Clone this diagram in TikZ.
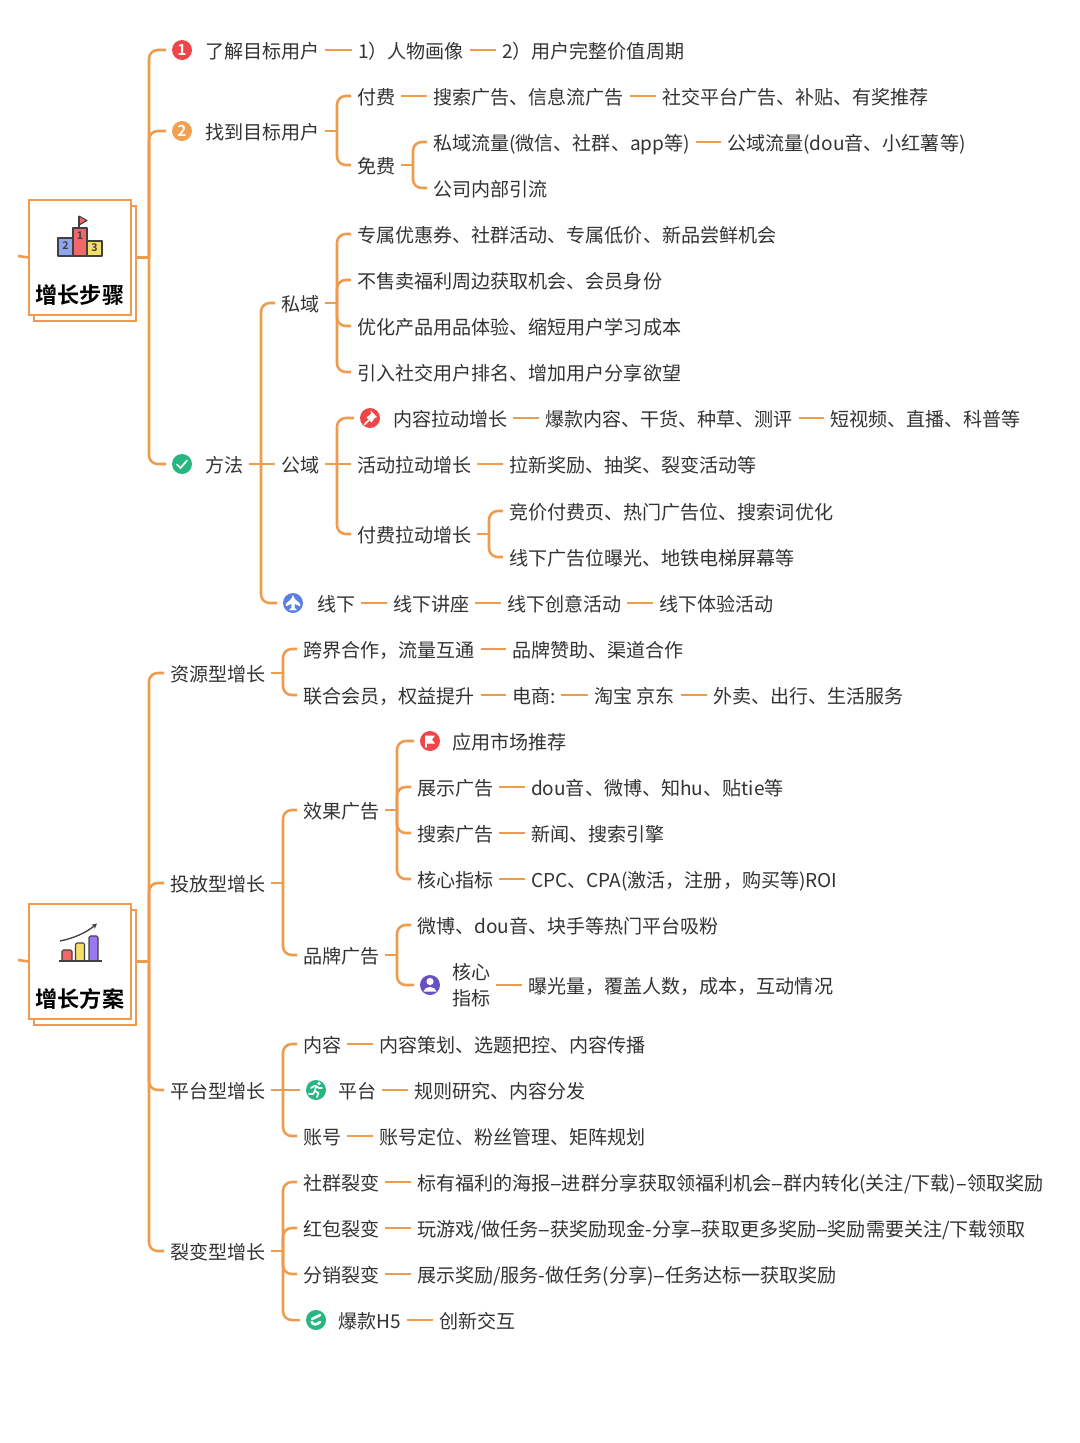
\documentclass[tikz,border=0pt]{standalone}
\usepackage{fontspec}
\usetikzlibrary{arrows.meta}
\setmainfont{Noto Sans CJK SC}[BoldFont={Noto Sans CJK SC Bold}]
\definecolor{oc}{HTML}{EE9B4E}
\definecolor{tc}{HTML}{333333}
\definecolor{icred}{HTML}{EE4649}
\definecolor{icorange}{HTML}{F2A152}
\definecolor{icgreen}{HTML}{27B67F}
\definecolor{icblue}{HTML}{5B7FE3}
\definecolor{icviolet}{HTML}{6650C4}
\definecolor{pblue}{HTML}{8FA6EE}
\definecolor{pred}{HTML}{F0686A}
\definecolor{pyellow}{HTML}{F5DE6A}
\definecolor{ppurple}{HTML}{9A78F0}
\tikzset{
  tx/.style={anchor=west,inner sep=0pt,outer sep=0pt,text=tc,font=\fontsize{14.3pt}{19.5pt}\selectfont,text height=13.25pt,text depth=1pt},
  txtwo/.style={anchor=west,inner sep=0pt,outer sep=0pt,text=tc,align=left,font=\fontsize{14.3pt}{19.5pt}\selectfont},
  conn/.style={draw=oc,line width=1.9pt},
  iconc/.style={circle,inner sep=0pt,outer sep=0pt,minimum size=15pt,text=white,font=\fontsize{11.5pt}{12pt}\selectfont\bfseries},
  rootbox/.style={draw=oc,fill=white,line width=1.9pt,inner sep=0pt,outer sep=0pt,minimum width=76.5pt,minimum height=86.25pt},
  roottxt/.style={inner sep=0pt,text=black,font=\fontsize{16.6pt}{18pt}\selectfont\bfseries},
  ink/.style={draw=black!75,line width=0.8pt,line join=round},
  podnum/.style={inner sep=0pt,text=black!75,font=\fontsize{8pt}{9pt}\selectfont\bfseries},
  wl/.style={draw=white,line width=1.3pt,line cap=round,line join=round},
}
\newcommand{\lk}[2]{\draw[conn] ([xshift=4.5pt]#1.east) -- ([xshift=-4.5pt]#2.west);}
\newcommand{\bk}[3]{\coordinate (Tk) at (#2,0); \draw[conn] ([xshift=4.5pt]#1.east) -- (Tk |- #1.east); \draw[conn,rounded corners=6.5pt] (Tk |- #1.east) -- (Tk |- #3.west) -- ([xshift=-4.5pt]#3.west);}
\newcommand{\bkz}[3]{\coordinate (Tk) at (#2,0); \draw[conn] (#1) -- (Tk |- #1); \draw[conn,rounded corners=6.5pt] (Tk |- #1) -- (Tk |- #3.west) -- ([xshift=-4.5pt]#3.west);}
\newcommand{\tn}[4]{\node[tx] (#1) at (#2,#3) {#4};}
\newcommand{\ic}[4]{\node[iconc,fill=#4] (#1) at (#2,#3) {};}
\newcommand{\dd}{-\kern-1.3pt -}
\begin{document}
\begin{tikzpicture}[x=0.75pt,y=-0.75pt]
\useasboundingbox (0,0) rectangle (1080,1443);
\fill[white] (0,0) rectangle (1080,1443);

% ---------- root 1
\node[rootbox,anchor=north west] (r1back) at (34,206) {};
\node[rootbox,anchor=north west] (r1) at (29,200) {};
\coordinate (s1) at (18,256);
\coordinate (r1j) at (r1back.east |- r1.west);
\draw[conn] (s1) .. controls (23,257.5) and (24,257) .. (r1.west);
\node[roottxt] (r1t) at (80,295) {增长步骤};
\draw[ink,fill=pred] (79,216) -- (87,220.5) -- (79,225) -- cycle;
\draw[ink] (79,216) -- (79,228);
\draw[ink,fill=pblue] (58,238) rectangle (73,256);
\draw[ink,fill=pred] (73,228) rectangle (87,256);
\draw[ink,fill=pyellow] (87,241) rectangle (102,256);
\node[podnum] (p2) at (65.5,246) {2};
\node[podnum] (p1) at (80,236) {1};
\node[podnum] (p3) at (94.5,248) {3};

% ---------- root 2
\node[rootbox,anchor=north west] (r2back) at (34,910) {};
\node[rootbox,anchor=north west] (r2) at (29,904) {};
\coordinate (s2) at (18,960);
\coordinate (r2j) at (r2back.east |- r2.west);
\draw[conn] (s2) .. controls (23,961.5) and (24,961.5) .. (r2.west);
\node[roottxt] (r2t) at (80,999) {增长方案};
\draw[ink,fill=pred,rounded corners=1pt] (62,950) rectangle (72,961);
\draw[ink,fill=pyellow,rounded corners=1pt] (75.5,943) rectangle (84.5,961);
\draw[ink,fill=ppurple,rounded corners=1pt] (89,936) rectangle (98,961);
\draw[ink,line width=1pt] (59,961) -- (102,961);
\draw[ink,line width=1pt,-{Stealth[length=4pt,width=4pt]}] (60,941) .. controls (75,938) and (87,932) .. (97,923.5);

% ---------- 了解目标用户
\node[iconc,fill=icred] (a1) at (182,50) {1};
\tn{a1t}{205}{50}{了解目标用户}
\tn{a2t}{358}{50}{1）人物画像}
\tn{a3t}{502}{50}{2）用户完整价值周期}
\lk{a1t}{a2t}\lk{a2t}{a3t}

% ---------- 找到目标用户
\node[iconc,fill=icorange] (b1) at (182,131) {2};
\tn{b1t}{205}{131}{找到目标用户}
\tn{c1}{357}{96}{付费}
\tn{c2}{433}{96}{搜索广告、信息流广告}
\tn{c3}{662}{96}{社交平台广告、补贴、有奖推荐}
\lk{c1}{c2}\lk{c2}{c3}
\tn{d1}{357}{165}{免费}
\tn{d2}{433}{142}{私域流量(微信、社群、app等)}
\tn{d3}{727}{142}{公域流量(dou音、小红薯等)}
\tn{d4}{433}{188}{公司内部引流}
\lk{d2}{d3}
\bk{b1t}{337}{c1}\bk{b1t}{337}{d1}
\bk{d1}{413}{d2}\bk{d1}{413}{d4}

% ---------- 方法
\ic{e1}{182}{464}{icgreen}
\draw[wl] (177,464.5) -- (180.5,468) -- (187,460.5);
\tn{e1t}{205}{464}{方法}
\tn{f1}{281}{303}{私域}
\tn{f2}{281}{464}{公域}
\ic{f3}{293}{603}{icblue}
\tn{f3t}{317}{603}{线下}
\draw[white,fill=white,line width=0.3pt] (293,595.5) -- (294.5,599) -- (300,604) -- (300,606) -- (294.5,603.5) -- (294.5,608) -- (296.5,610) -- (289.5,610) -- (291.5,608) -- (291.5,603.5) -- (286,606) -- (286,604) -- (291.5,599) -- cycle;
\bk{e1t}{261}{f1}\lk{e1t}{f2}
\bk{e1t}{261}{f3}

% 私域
\tn{g1}{357}{234}{专属优惠券、社群活动、专属低价、新品尝鲜机会}
\tn{g2}{357}{280}{不售卖福利周边获取机会、会员身份}
\tn{g3}{357}{326}{优化产品用品体验、缩短用户学习成本}
\tn{g4}{357}{372}{引入社交用户排名、增加用户分享欲望}
\bk{f1}{337}{g1}\bk{f1}{337}{g2}\bk{f1}{337}{g3}\bk{f1}{337}{g4}

% 公域
\ic{h0}{370}{418}{icred}
\draw[white,fill=white,line width=0.5pt] (371,411.5) -- (376.5,417) -- (374.5,417.5) -- (371.5,422) -- (367,417.5) -- (371.5,414) -- cycle;
\draw[wl] (368.5,420.5) -- (364.5,424.5);
\tn{h1}{393}{418}{内容拉动增长}
\tn{h2}{545}{418}{爆款内容、干货、种草、测评}
\tn{h3}{830}{418}{短视频、直播、科普等}
\lk{h1}{h2}\lk{h2}{h3}
\tn{i1}{357}{464}{活动拉动增长}
\tn{i2}{509}{464}{拉新奖励、抽奖、裂变活动等}
\lk{i1}{i2}
\tn{j1}{357}{534}{付费拉动增长}
\tn{j2}{509}{511}{竞价付费页、热门广告位、搜索词优化}
\tn{j3}{509}{557}{线下广告位曝光、地铁电梯屏幕等}
\bk{f2}{337}{h0}\lk{f2}{i1}\bk{f2}{337}{j1}
\bk{j1}{489}{j2}\bk{j1}{489}{j3}

% 线下
\tn{k1}{393}{603}{线下讲座}
\tn{k2}{507}{603}{线下创意活动}
\tn{k3}{659}{603}{线下体验活动}
\lk{f3t}{k1}\lk{k1}{k2}\lk{k2}{k3}

% root 1 trunk
\bkz{r1j}{149}{a1}\bkz{r1j}{149}{b1}\bkz{r1j}{149}{e1}

% ---------- 资源型增长
\tn{m1}{170}{673}{资源型增长}
\tn{m2}{303}{649}{跨界合作，流量互通}
\tn{m3}{512}{649}{品牌赞助、渠道合作}
\tn{m4}{303}{695}{联合会员，权益提升}
\tn{m5}{512}{695}{电商:}
\tn{m6}{594}{695}{淘宝 京东}
\tn{m7}{713}{695}{外卖、出行、生活服务}
\lk{m2}{m3}\lk{m4}{m5}\lk{m5}{m6}\lk{m6}{m7}
\bk{m1}{283}{m2}\bk{m1}{283}{m4}

% ---------- 投放型增长
\tn{n1}{170}{883}{投放型增长}
\tn{n2}{303}{810}{效果广告}
\tn{n3}{303}{955}{品牌广告}
\bk{n1}{283}{n2}\bk{n1}{283}{n3}
\ic{o0}{430}{741}{icred}
\draw[wl,line width=1pt] (426,747) -- (426,736);
\fill[white] (426,735.5) -- (435,735.5) -- (432,739.5) -- (435,743.5) -- (426,743.5) -- cycle;
\tn{o1}{452}{741}{应用市场推荐}
\tn{o2}{417}{787}{展示广告}
\tn{o3}{531}{787}{dou音、微博、知hu、贴tie等}
\tn{o4}{417}{833}{搜索广告}
\tn{o5}{531}{833}{新闻、搜索引擎}
\tn{o6}{417}{879}{核心指标}
\tn{o7}{531}{879}{CPC、CPA(激活，注册，购买等)ROI}
\lk{o2}{o3}\lk{o4}{o5}\lk{o6}{o7}
\bk{n2}{397}{o0}\bk{n2}{397}{o2}\bk{n2}{397}{o4}\bk{n2}{397}{o6}
\tn{q1}{417}{925}{微博、dou音、块手等热门平台吸粉}
\ic{q0}{430}{985}{icviolet}
\fill[white] (430,981.5) circle (3.6);
\fill[white] (423.5,991.5) .. controls (424.5,985.5) and (435.5,985.5) .. (436.5,991.5) -- cycle;
\node[txtwo] (q2) at (452,985) {核心\\指标};
\tn{q3}{528}{985}{曝光量，覆盖人数，成本，互动情况}
\lk{q2}{q3}
\bk{n3}{397}{q1}\bk{n3}{397}{q0}

% ---------- 平台型增长
\tn{s1t}{170}{1090}{平台型增长}
\tn{t1}{303}{1044}{内容}
\tn{t2}{379}{1044}{内容策划、选题把控、内容传播}
\ic{u0}{316}{1090}{icgreen}
\fill[white] (319,1083.5) circle (1.8);
\draw[wl] (311,1088) -- (315,1085.5) -- (319,1088) -- (322,1088);
\draw[wl] (316,1086) -- (315,1091) -- (318.5,1093) -- (317,1097);
\draw[wl] (315,1091) -- (313,1094) -- (309,1094);
\tn{u1}{338}{1090}{平台}
\tn{u2}{414}{1090}{规则研究、内容分发}
\tn{v1}{303}{1136}{账号}
\tn{v2}{379}{1136}{账号定位、粉丝管理、矩阵规划}
\lk{t1}{t2}\lk{u1}{u2}\lk{v1}{v2}
\bk{s1t}{283}{t1}\lk{s1t}{u0}\bk{s1t}{283}{v1}

% ---------- 裂变型增长
\tn{w0}{170}{1251}{裂变型增长}
\tn{w1}{303}{1182}{社群裂变}
\tn{w2}{417}{1182}{标有福利的海报\dd 进群分享获取领福利机会\dd 群内转化(关注/下载)\dd 领取奖励}
\tn{w3}{303}{1228}{红包裂变}
\tn{w4}{417}{1228}{玩游戏/做任务\dd 获奖励现金-分享\dd 获取更多奖励\dd 奖励需要关注/下载领取}
\tn{w5}{303}{1274}{分销裂变}
\tn{w6}{417}{1274}{展示奖励/服务-做任务(分享)\dd 任务达标一获取奖励}
\ic{w7}{316}{1320}{icgreen}
\draw[wl,line width=2pt] (311.5,1322) .. controls (313,1325) and (317,1325) .. (320,1322);
\draw[wl,line width=2pt] (312,1319) .. controls (314,1318) and (318,1316) .. (320,1315);
\tn{w8}{338}{1320}{爆款H5}
\tn{w9}{439}{1320}{创新交互}
\lk{w1}{w2}\lk{w3}{w4}\lk{w5}{w6}\lk{w8}{w9}
\bk{w0}{283}{w1}\bk{w0}{283}{w3}\bk{w0}{283}{w5}\bk{w0}{283}{w7}

% root 2 trunk
\bkz{r2j}{149}{m1}\bkz{r2j}{149}{n1}\bkz{r2j}{149}{s1t}\bkz{r2j}{149}{w0}
\end{tikzpicture}
\end{document}
